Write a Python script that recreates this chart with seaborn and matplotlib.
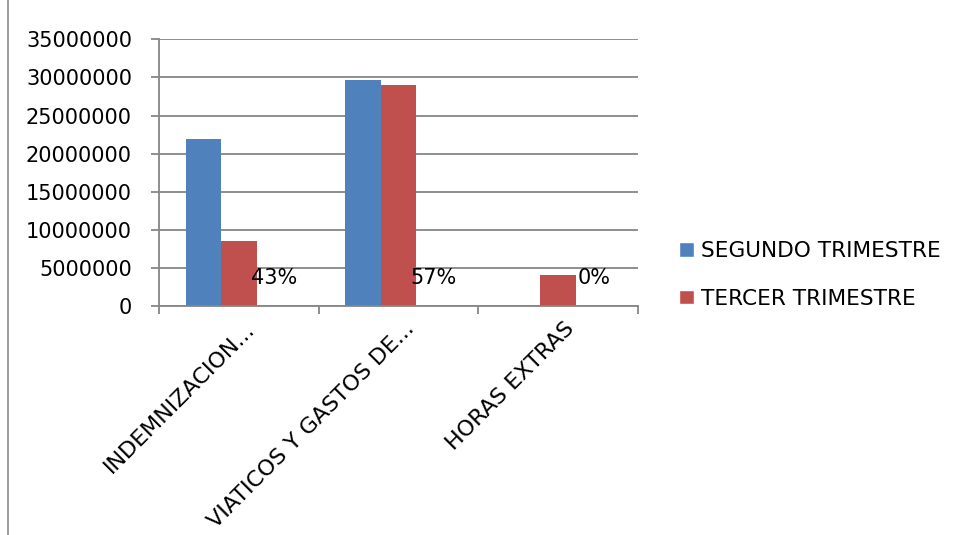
import matplotlib
matplotlib.use("Agg")
import matplotlib.pyplot as plt
import matplotlib.transforms as mtransforms
from matplotlib.patches import Patch
from matplotlib.lines import Line2D
from matplotlib.ticker import FuncFormatter
import seaborn as sns
import pandas as pd

categories = ["INDEMNIZACION...", "VIATICOS Y GASTOS DE...", "HORAS EXTRAS"]
segundo = [21900000, 29600000, 0]
tercer = [8550000, 29000000, 4030000]
porcentaje = [0.43, 0.57, 0.0]
pct_labels = ["43%", "57%", "0%"]
series = ["SEGUNDO TRIMESTRE", "TERCER TRIMESTRE", "PORCENTAJE"]
colors = ["#4F81BD", "#C0504D", "#FFFFFF"]
yticks = [0, 5000000, 10000000, 15000000, 20000000, 25000000, 30000000, 35000000]

sns.set_theme(style="white")
plt.rcParams["font.family"] = ["DejaVu Sans"]
plt.rcParams["text.color"] = "black"
FS = 15

df = pd.DataFrame({
    "cat": categories * 3,
    "val": segundo + tercer + porcentaje,
    "serie": [series[0]] * 3 + [series[1]] * 3 + [series[2]] * 3,
})

fig = plt.figure(figsize=(9.56, 5.35), dpi=100)
ax = fig.add_axes([0.1663, 0.428, 0.5011, 0.4985])

sns.barplot(data=df, x="cat", y="val", hue="serie", palette=colors,
            saturation=1, width=2 / 3, ax=ax, legend=False, linewidth=0)

for p in ax.containers[2]:
    p.set_alpha(0)
ax.bar_label(ax.containers[2], labels=pct_labels, padding=13, fontsize=FS,
             color="black")

grid_c = "#868686"
ax.set_ylim(yticks[0], yticks[-1])
ax.set_yticks(yticks)
ax.yaxis.set_major_formatter(FuncFormatter(lambda v, p: f"{int(v)}"))
ax.set_xlim(-0.5, len(categories) - 0.5)
ax.yaxis.grid(True, color=grid_c, lw=1.3)
ax.set_axisbelow(True)
for s in ["top", "right"]:
    ax.spines[s].set_visible(False)
for s in ["left", "bottom"]:
    ax.spines[s].set_color(grid_c)
    ax.spines[s].set_linewidth(1.3)
ax.tick_params(axis="y", length=5.5, width=1.3, color=grid_c, pad=14,
               labelsize=FS, labelcolor="black", left=True)
ax.set_xticks([-0.5, 0.5, 1.5, 2.5], minor=True)
ax.tick_params(axis="x", which="minor", length=5.5, width=1.3, color=grid_c,
               bottom=True)
ax.tick_params(axis="x", which="major", length=0, pad=14, labelsize=16,
               labelcolor="black")
ax.set_xticks(range(len(categories)))
ax.set_xticklabels(categories, rotation=45, ha="right", va="center",
                   rotation_mode="anchor")
off = mtransforms.ScaledTranslation(9 / 72, 0, fig.dpi_scale_trans)
for lbl in ax.get_xticklabels():
    lbl.set_transform(lbl.get_transform() + off)
ax.set_xlabel("")
ax.set_ylabel("")

handles = [Patch(facecolor=colors[0]), Patch(facecolor=colors[1])]
fig.legend(handles, series[:2], loc="center left",
           bbox_to_anchor=(679 / 956, 1 - 275 / 535), frameon=False,
           handlelength=0.68, handleheight=0.68, handletextpad=0.35,
           labelspacing=1.25, fontsize=15.6, borderaxespad=0, borderpad=0,
           labelcolor="black")

fig.add_artist(Line2D([8 / 956, 8 / 956], [0, 1], color="#8c8c8c", lw=1.2))

fig.savefig("out.png", dpi=100, facecolor="white")
